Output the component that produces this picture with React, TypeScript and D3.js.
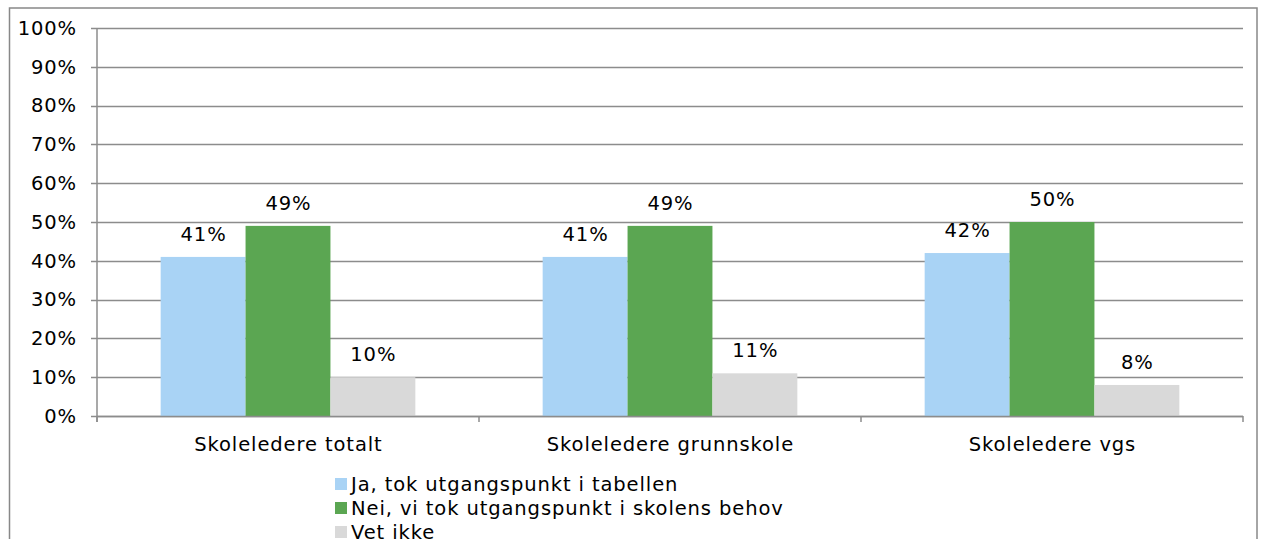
import React from "react";
import * as d3 from "d3";

const categories = ["Skoleledere totalt", "Skoleledere grunnskole", "Skoleledere vgs"];
const seriesNames = [
  "Ja, tok utgangspunkt i tabellen",
  "Nei, vi tok utgangspunkt i skolens behov",
  "Vet ikke",
];
const jaValues = [41, 41, 42];
const neiValues = [49, 49, 50];
const vetIkkeValues = [10, 11, 8];
const yTicks = [0, 10, 20, 30, 40, 50, 60, 70, 80, 90, 100];
const colors = ["#A9D3F5", "#5BA652", "#D9D9D9"];

export default function App() {
  const series = [jaValues, neiValues, vetIkkeValues];
  const left = 97, right = 1243, top = 28, bottom = 416;
  const font = "'DejaVu Sans', Verdana, sans-serif";
  const fs = 19.5;
  const ls = 0.9;
  const grid = "#8C8C8C";

  const x0 = d3.scaleBand<string>().domain(categories).range([left, right]).paddingInner(0).paddingOuter(0);
  const x1 = d3.scaleBand<number>().domain([0, 1, 2]).range([0, x0.bandwidth()]).paddingInner(0).paddingOuter(0.75);
  const y = d3.scaleLinear().domain([0, 100]).range([bottom, top]);

  const catTicks = [left, ...categories.map((c) => (x0(c) as number) + x0.bandwidth())];
  const textProps = { fontFamily: font, fontSize: fs, fill: "#000", letterSpacing: ls };

  return (
    <svg
      width={1264}
      height={539}
      style={{ position: "absolute", left: 0, top: 0, background: "#fff" }}
    >
      <rect x={9.5} y={8} width={1247.5} height={560} fill="#fff" stroke="#888" strokeWidth={1.5} />
      {yTicks.map((t) => (
        <g key={t}>
          <line x1={left - 6} x2={right} y1={Math.round(y(t)) + 0.5} y2={Math.round(y(t)) + 0.5} stroke={grid} strokeWidth={1.5} />
          <text x={77} y={y(t)} dy="0.35em" textAnchor="end" {...textProps}>
            {t}%
          </text>
        </g>
      ))}
      <line x1={left} x2={left} y1={top} y2={bottom + 6} stroke={grid} strokeWidth={1.5} />
      {categories.map((c, ci) => (
        <g key={c}>
          {series.map((vals, si) => {
            const bx = (x0(c) as number) + (x1(si) as number);
            const bw = x1.bandwidth();
            return (
              <g key={si}>
                <rect x={bx} y={y(vals[ci])} width={bw} height={bottom - y(vals[ci])} fill={colors[si]} />
                <text x={bx + bw / 2 + ls / 2} y={y(vals[ci]) - 23} dy="0.35em" textAnchor="middle" {...textProps}>
                  {vals[ci]}%
                </text>
              </g>
            );
          })}
          <text x={(x0(c) as number) + x0.bandwidth() / 2 + ls / 2} y={444} dy="0.35em" textAnchor="middle" {...textProps}>
            {c}
          </text>
        </g>
      ))}
      <line x1={left} x2={right} y1={bottom + 0.5} y2={bottom + 0.5} stroke={grid} strokeWidth={1.5} />
      {catTicks.map((tx, i) => (
        <line key={i} x1={tx} x2={tx} y1={bottom} y2={bottom + 6} stroke={grid} strokeWidth={1.5} />
      ))}
      {seriesNames.map((n, i) => (
        <g key={n}>
          <rect x={335} y={478 + i * 24} width={12} height={12} fill={colors[i]} />
          <text x={351} y={484 + i * 24} dy="0.35em" {...textProps}>
            {n}
          </text>
        </g>
      ))}
    </svg>
  );
}
